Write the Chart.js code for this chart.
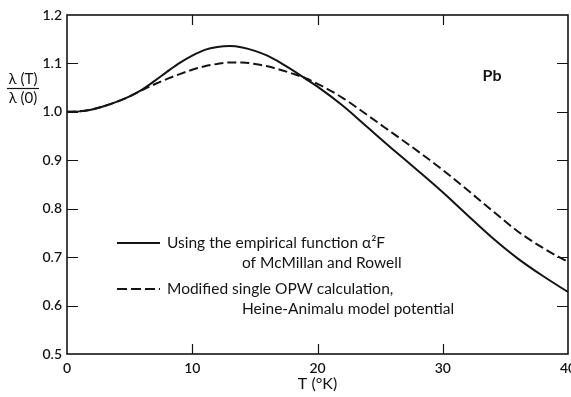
<!DOCTYPE html>
<html>
<head>
<meta charset="utf-8">
<script src="https://cdn.jsdelivr.net/npm/chart.js@4/dist/chart.umd.min.js"></script>
<style>
  html, body { margin: 0; padding: 0; background: #fff; }
  #wrap { width: 571px; height: 397px; }
</style>
</head>
<body>
<div id="wrap"><canvas id="c" width="571" height="397"></canvas></div>
<script>
// Temperature grid (°K)
const temps = [0, 1, 2, 3, 4, 5, 6, 7, 8, 9, 10, 11, 12, 13, 14, 15, 16, 17, 18, 19, 20,
               22, 24, 26, 28, 30, 32, 34, 36, 38, 40];

// λ(T)/λ(0) from the empirical α²F of McMillan and Rowell
const empiricalRatio = [1.000, 1.001, 1.005, 1.012, 1.021, 1.032, 1.046, 1.064, 1.083, 1.101, 1.116,
                        1.128, 1.134, 1.136, 1.133, 1.126, 1.116, 1.102, 1.086, 1.069, 1.052,
                        1.013, 0.968, 0.923, 0.879, 0.834, 0.786, 0.739, 0.697, 0.661, 0.628];

// λ(T)/λ(0) from the modified single OPW calculation
const opwRatio = [1.000, 1.001, 1.005, 1.012, 1.021, 1.032, 1.045, 1.057, 1.068, 1.078, 1.087,
                  1.094, 1.099, 1.102, 1.102, 1.099, 1.094, 1.087, 1.079, 1.070, 1.058,
                  1.029, 0.993, 0.956, 0.919, 0.880, 0.838, 0.795, 0.753, 0.719, 0.690];

const xTicks = [0, 10, 20, 30, 40];
const yTicks = [0.5, 0.6, 0.7, 0.8, 0.9, 1.0, 1.1, 1.2];

const legendRows = [
  { dash: [], lines: ['Using the empirical function \u03B1\u00B2F', 'of McMillan and Rowell'] },
  { dash: [10, 4], lines: ['Modified single OPW calculation,', 'Heine-Animalu model potential'] }
];

const INK = '#141414';
const FONT = 'Lato, "DejaVu Sans", sans-serif';

const toPoints = (xs, ys) => xs.map((x, i) => ({ x, y: ys[i] }));

// Frame, inward tick marks, ratio label, element label and legend
const decorations = {
  id: 'decorations',
  afterDraw(chart) {
    const { ctx, chartArea: a, scales: { x, y } } = chart;
    ctx.save();
    ctx.strokeStyle = INK;
    ctx.lineWidth = 1.6;
    ctx.strokeRect(a.left, a.top, a.right - a.left, a.bottom - a.top);

    ctx.lineWidth = 1.2;
    ctx.beginPath();
    yTicks.forEach(v => {
      if (v === 0.5 || v === 1.2) return;
      const py = Math.round(y.getPixelForValue(v)) + 0.5;
      ctx.moveTo(a.left, py); ctx.lineTo(a.left + 11, py);
      ctx.moveTo(a.right, py); ctx.lineTo(a.right - 11, py);
    });
    xTicks.forEach(v => {
      if (v === 0 || v === 40) return;
      const px = Math.round(x.getPixelForValue(v)) + 0.5;
      ctx.moveTo(px, a.bottom); ctx.lineTo(px, a.bottom - 10);
      ctx.moveTo(px, a.top); ctx.lineTo(px, a.top + 10);
    });
    ctx.stroke();

    // y-axis quantity written as a fraction
    ctx.fillStyle = INK;
    ctx.textAlign = 'center';
    ctx.textBaseline = 'middle';
    ctx.font = '15px ' + FONT;
    ctx.fillText('\u03BB (T)', 23, 79);
    ctx.fillText('\u03BB (0)', 23, 98);
    ctx.lineWidth = 1.2;
    ctx.beginPath();
    ctx.moveTo(7, 88.5); ctx.lineTo(39, 88.5);
    ctx.stroke();

    ctx.font = 'bold 16px ' + FONT;
    ctx.fillText('Pb', 492, 76);

    // legend
    ctx.font = '15.5px ' + FONT;
    ctx.textAlign = 'left';
    ctx.lineWidth = 2;
    const rowY = [243, 289];
    legendRows.forEach((row, i) => {
      const ly = rowY[i];
      ctx.setLineDash(row.dash);
      ctx.beginPath();
      ctx.moveTo(117, ly); ctx.lineTo(160, ly);
      ctx.stroke();
      ctx.setLineDash([]);
      ctx.fillText(row.lines[0], 167, ly);
      ctx.fillText(row.lines[1], 242, ly + 20);
    });
    ctx.restore();
  }
};

new Chart(document.getElementById('c'), {
  type: 'line',
  data: {
    datasets: [
      {
        label: 'Using the empirical function \u03B1\u00B2F of McMillan and Rowell',
        data: toPoints(temps, empiricalRatio),
        borderColor: INK, borderWidth: 2, pointRadius: 0,
        cubicInterpolationMode: 'monotone', fill: false
      },
      {
        label: 'Modified single OPW calculation, Heine-Animalu model potential',
        data: toPoints(temps, opwRatio),
        borderColor: INK, borderWidth: 2, borderDash: [9, 4], pointRadius: 0,
        cubicInterpolationMode: 'monotone', fill: false
      }
    ]
  },
  options: {
    responsive: false,
    devicePixelRatio: 1,
    animation: false,
    layout: { padding: { top: 15, right: 3, left: 0, bottom: 0 } },
    plugins: { legend: { display: false }, tooltip: { enabled: false } },
    scales: {
      x: {
        type: 'linear', min: 0, max: 40,
        afterBuildTicks: s => { s.ticks = xTicks.map(v => ({ value: v })); },
        afterFit: s => { s.height = 43; s.paddingLeft = 0; s.paddingRight = 0; },
        grid: { display: false, drawTicks: false },
        border: { display: false },
        ticks: { color: INK, padding: 6, font: { family: FONT, size: 14, weight: '600' } },
        title: {
          display: true, text: 'T (\u00B0K)', color: INK,
          font: { family: FONT, size: 16 }, padding: { top: 0, bottom: 4 }
        }
      },
      y: {
        type: 'linear', min: 0.5, max: 1.2,
        afterBuildTicks: s => { s.ticks = yTicks.map(v => ({ value: v })); },
        afterFit: s => { s.width = 67; s.paddingTop = 0; s.paddingBottom = 0; },
        grid: { display: false, drawTicks: false },
        border: { display: false },
        ticks: {
          color: INK, padding: 5, font: { family: FONT, size: 14, weight: '600' },
          callback: v => Number(v).toFixed(1)
        }
      }
    }
  },
  plugins: [decorations]
});
</script>
</body>
</html>
